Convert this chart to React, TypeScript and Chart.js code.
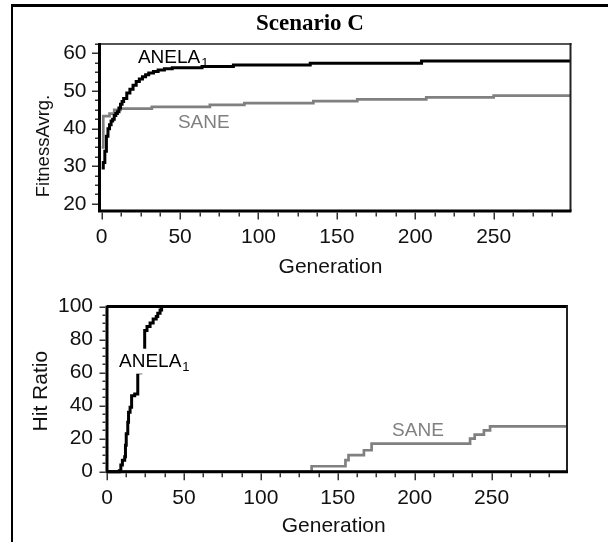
import React, { useEffect, useRef } from "react";
import { Chart, registerables } from "chart.js";

Chart.register(...registerables);

const SANS = '"Liberation Sans", Arial, sans-serif';
const SERIF = '"Liberation Serif", "Times New Roman", serif';

// ---- tick labels ----
const GEN_TICKS = [0, 50, 100, 150, 200, 250];
const GEN_MINOR_STEP = 12.5;
const FIT_TICKS = [20, 30, 40, 50, 60];
const FIT_MINOR_STEP = 2.5;
const HIT_TICKS = [0, 20, 40, 60, 80, 100];
const HIT_MINOR_STEP = 5;

// ---- top panel: Fitness Avrg. ----
const FIT_ANELA_GEN = [0, 1, 2, 3, 4, 5, 6, 7, 8, 9, 10, 11, 12, 13, 14, 16, 18, 20, 22, 24, 26, 28, 30, 33, 36, 40, 45, 64, 84, 133, 204, 299];
const FIT_ANELA = [29.5, 31, 34, 38, 40, 41, 42, 42.5, 43.5, 44, 44.5, 45.5, 46.5, 47.2, 48, 49.5, 50.5, 51.5, 52.5, 53.2, 53.8, 54.3, 54.8, 55.2, 55.6, 55.9, 56.2, 56.5, 56.9, 57.4, 58.0, 58.0];
const FIT_SANE_GEN = [0, 1, 5, 8, 12, 32, 69, 91, 135, 163, 207, 250, 299];
const FIT_SANE = [35, 43.3, 44, 45, 45.3, 45.8, 46.3, 46.8, 47.3, 47.8, 48.3, 48.8, 48.8];

// ---- bottom panel: Hit Ratio ----
const HIT_ANELA_GEN = [0, 8, 9, 10, 11.5, 12, 12.5, 13.5, 14, 15, 16, 18, 20, 22, 24.5, 26, 28, 30, 32, 33, 34.5, 35.5, 299];
const HIT_ANELA = [0, 0.5, 4, 7, 9, 16, 23, 30, 36, 39, 46, 47, 60, 66, 85.5, 88, 90, 92.5, 94, 96, 98, 100, 100];
const HIT_SANE_GEN = [0, 133, 155, 157, 167, 172, 236, 239, 245, 249, 299];
const HIT_SANE = [0, 3.3, 7, 10, 13, 17, 20, 22.5, 25, 27.5, 27.5];

const SERIES_NAMES = ["ANELA", "SANE"];
const ANELA_COLOR = "#000000";
const SANE_COLOR = "#808080";

type Lab = { text: string; sub?: string; gen: number; val: number; color: string; bg?: boolean };
type PanelCfg = {
  labels: Lab[];
  xMajor: number[];
  xMinorStep: number;
  yMajor: number[];
  yMinorStep: number;
  topColor: string;
  topWidth: number;
  xTitle: string;
  xTitleDx: number;
  xTitleDy: number;
  yTitle: string;
  yTitleSize: number;
  yTitleDx: number;
  yTitleDy: number;
};

function makePanelPlugin(cfg: PanelCfg) {
  return {
    id: "panel",
    afterDatasetsDraw(chart: any) {
      const { ctx, chartArea: a, scales } = chart;
      const xs = scales.x;
      const ys = scales.y;
      ctx.save();
      // annotations
      for (const lab of cfg.labels) {
        const px = xs.getPixelForValue(lab.gen);
        const py = ys.getPixelForValue(lab.val);
        ctx.font = `19px ${SANS}`;
        const w = ctx.measureText(lab.text).width;
        ctx.font = `13px ${SANS}`;
        const sw = lab.sub ? ctx.measureText(lab.sub).width + 1 : 0;
        if (lab.bg) {
          ctx.fillStyle = "#ffffff";
          ctx.fillRect(px - 3, py - 18, w + sw + 6, 25);
        }
        ctx.fillStyle = lab.color;
        ctx.textAlign = "left";
        ctx.textBaseline = "alphabetic";
        ctx.font = `19px ${SANS}`;
        ctx.fillText(lab.text, px, py);
        if (lab.sub) {
          ctx.font = `13px ${SANS}`;
          ctx.fillText(lab.sub, px + w + 1, py + 4);
        }
      }
      // frame
      ctx.lineCap = "butt";
      ctx.strokeStyle = cfg.topColor;
      ctx.lineWidth = cfg.topWidth;
      ctx.beginPath();
      ctx.moveTo(a.left, a.top);
      ctx.lineTo(a.right + 1, a.top);
      ctx.stroke();
      ctx.strokeStyle = "#222";
      ctx.lineWidth = 2;
      ctx.beginPath();
      ctx.moveTo(a.right, a.top - 1);
      ctx.lineTo(a.right, a.bottom);
      ctx.stroke();
      ctx.strokeStyle = "#000";
      ctx.lineWidth = 3;
      ctx.beginPath();
      ctx.moveTo(a.left, a.top - 1);
      ctx.lineTo(a.left, a.bottom + 1.5);
      ctx.moveTo(a.left - 1.5, a.bottom);
      ctx.lineTo(a.right + 1, a.bottom);
      ctx.stroke();
      // ticks
      ctx.strokeStyle = "#333";
      ctx.lineWidth = 1.5;
      ctx.beginPath();
      const isMajor = (arr: number[], v: number) => arr.some((m) => Math.abs(m - v) < 1e-6);
      for (let k = Math.ceil(xs.min / cfg.xMinorStep); k * cfg.xMinorStep <= xs.max + 1e-9; k++) {
        const v = k * cfg.xMinorStep;
        const p = Math.round(xs.getPixelForValue(v)) + 0.25;
        const len = isMajor(cfg.xMajor, v) ? 7 : 4;
        ctx.moveTo(p, a.bottom + 1.5);
        ctx.lineTo(p, a.bottom + 1.5 + len);
      }
      for (let k = Math.ceil(ys.min / cfg.yMinorStep); k * cfg.yMinorStep <= ys.max + 1e-9; k++) {
        const v = k * cfg.yMinorStep;
        const p = Math.round(ys.getPixelForValue(v)) + 0.25;
        const len = isMajor(cfg.yMajor, v) ? 6 : 3;
        ctx.moveTo(a.left - 1.5, p);
        ctx.lineTo(a.left - 1.5 - len, p);
      }
      ctx.stroke();
      // axis titles
      ctx.fillStyle = "#111";
      ctx.font = `21px ${SANS}`;
      ctx.textAlign = "center";
      ctx.textBaseline = "alphabetic";
      ctx.fillText(cfg.xTitle, (a.left + a.right) / 2 + cfg.xTitleDx, a.bottom + cfg.xTitleDy);
      ctx.font = `${cfg.yTitleSize}px ${SANS}`;
      ctx.translate(a.left + cfg.yTitleDx, (a.top + a.bottom) / 2 + cfg.yTitleDy);
      ctx.rotate(-Math.PI / 2);
      ctx.fillText(cfg.yTitle, 0, 0);
      ctx.restore();
    },
  };
}

function pts(xsArr: number[], ysArr: number[]) {
  return xsArr.map((x, i) => ({ x, y: ysArr[i] }));
}

function makeConfig(opts: {
  anela: { x: number; y: number }[];
  sane: { x: number; y: number }[];
  xMin: number;
  xMax: number;
  yMin: number;
  yMax: number;
  yTicks: number[];
  yWidth: number;
  xHeight: number;
  padTop: number;
  padRight: number;
  yPad: number;
  plugin: any;
}) {
  const tickFont = { family: SANS, size: 21 };
  return {
    type: "line" as const,
    data: {
      datasets: [
        {
          label: SERIES_NAMES[0],
          data: opts.anela,
          borderColor: ANELA_COLOR,
          borderWidth: 3,
          pointRadius: 0,
          stepped: true,
          clip: false,
          order: 0,
        },
        {
          label: SERIES_NAMES[1],
          data: opts.sane,
          borderColor: SANE_COLOR,
          borderWidth: 2.7,
          pointRadius: 0,
          stepped: true,
          clip: false,
          order: 1,
        },
      ],
    },
    options: {
      responsive: false,
      animation: false,
      events: [],
      layout: { padding: { top: opts.padTop, right: opts.padRight, left: 0, bottom: 0 } },
      plugins: { legend: { display: false }, tooltip: { enabled: false }, title: { display: false } },
      scales: {
        x: {
          type: "linear",
          position: "bottom",
          min: opts.xMin,
          max: opts.xMax,
          grid: { display: false, drawTicks: false },
          border: { display: false },
          ticks: { padding: 14, font: tickFont, color: "#111", maxRotation: 0, autoSkip: false, callback: (v: any) => String(v) },
          afterBuildTicks: (s: any) => {
            s.ticks = GEN_TICKS.map((v) => ({ value: v }));
          },
          afterFit: (s: any) => {
            s.height = opts.xHeight;
          },
        },
        y: {
          type: "linear",
          position: "left",
          min: opts.yMin,
          max: opts.yMax,
          grid: { display: false, drawTicks: false },
          border: { display: false },
          ticks: { padding: opts.yPad, font: tickFont, color: "#111", autoSkip: false, callback: (v: any) => String(v) },
          afterBuildTicks: (s: any) => {
            s.ticks = opts.yTicks.map((v) => ({ value: v }));
          },
          afterFit: (s: any) => {
            s.width = opts.yWidth;
          },
        },
      },
    },
    plugins: [opts.plugin],
  };
}

export default function App() {
  const topRef = useRef<HTMLCanvasElement>(null);
  const botRef = useRef<HTMLCanvasElement>(null);

  useEffect(() => {
    const topPlugin = makePanelPlugin({
      labels: [
        { text: "ANELA", sub: "1", gen: 23.1, val: 57.4, color: ANELA_COLOR },
        { text: "SANE", gen: 48.6, val: 40.2, color: SANE_COLOR },
      ],
      xMajor: GEN_TICKS,
      xMinorStep: GEN_MINOR_STEP,
      yMajor: FIT_TICKS,
      yMinorStep: FIT_MINOR_STEP,
      topColor: "#555",
      topWidth: 2,
      xTitle: "Generation",
      xTitleDx: -4.5,
      xTitleDy: 62,
      yTitle: "FitnessAvrg.",
      yTitleSize: 18.5,
      yTitleDx: -50.5,
      yTitleDy: 18.5,
    });
    const botPlugin = makePanelPlugin({
      labels: [
        { text: "ANELA", sub: "1", gen: 7.8, val: 63.6, color: ANELA_COLOR, bg: true },
        { text: "SANE", gen: 185.3, val: 21.9, color: SANE_COLOR },
      ],
      xMajor: GEN_TICKS,
      xMinorStep: GEN_MINOR_STEP,
      yMajor: HIT_TICKS,
      yMinorStep: HIT_MINOR_STEP,
      topColor: "#000",
      topWidth: 3,
      xTitle: "Generation",
      xTitleDx: -3.3,
      xTitleDy: 60.5,
      yTitle: "Hit Ratio",
      yTitleSize: 21,
      yTitleDx: -60,
      yTitleDy: 2,
    });

    const c1 = new Chart(
      topRef.current as HTMLCanvasElement,
      makeConfig({
        anela: pts(FIT_ANELA_GEN, FIT_ANELA),
        sane: pts(FIT_SANE_GEN, FIT_SANE),
        xMin: -1.4,
        xMax: 299,
        yMin: 18.1,
        yMax: 62.5,
        yTicks: FIT_TICKS,
        yWidth: 99.5,
        xHeight: 79,
        padTop: 44,
        padRight: 37.5,
        yPad: 13,
        plugin: topPlugin,
      }) as any
    );
    const c2 = new Chart(
      botRef.current as HTMLCanvasElement,
      makeConfig({
        anela: pts(HIT_ANELA_GEN, HIT_ANELA),
        sane: pts(HIT_SANE_GEN, HIT_SANE),
        xMin: 0,
        xMax: 299,
        yMin: 0,
        yMax: 100,
        yTicks: HIT_TICKS,
        yWidth: 107,
        xHeight: 70.3,
        padTop: 24,
        padRight: 41,
        yPad: 14,
        plugin: botPlugin,
      }) as any
    );
    return () => {
      c1.destroy();
      c2.destroy();
    };
  }, []);

  return (
    <div style={{ position: "absolute", left: 0, top: 0, width: 608, height: 542, background: "#fff", overflow: "hidden" }}>
      <canvas ref={topRef} width={608} height={290} style={{ position: "absolute", left: 0, top: 0 }} />
      <canvas ref={botRef} width={608} height={262} style={{ position: "absolute", left: 0, top: 280 }} />
      <div
        style={{
          position: "absolute",
          left: 0,
          top: 11,
          width: 620,
          textAlign: "center",
          fontFamily: SERIF,
          fontWeight: "bold",
          fontSize: 23,
          lineHeight: "23px",
          color: "#000",
        }}
      >
        Scenario C
      </div>
      <div
        style={{
          position: "absolute",
          left: 11,
          top: 4,
          width: 700,
          height: 700,
          borderLeft: "2px solid #000",
          borderTop: "3px solid #000",
          pointerEvents: "none",
        }}
      />
    </div>
  );
}
